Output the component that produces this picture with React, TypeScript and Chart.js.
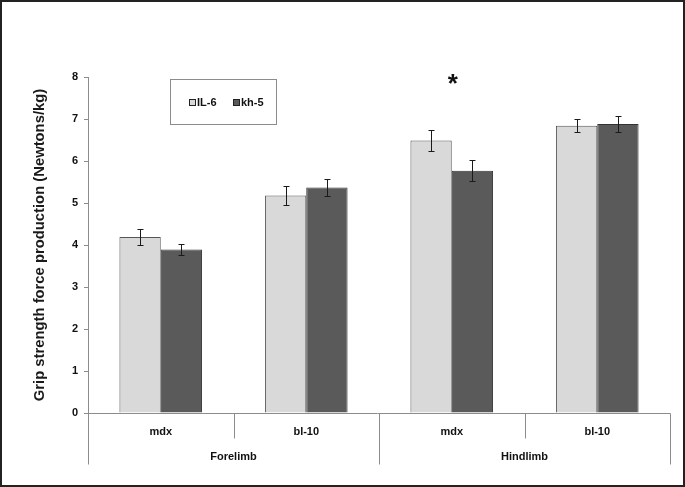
import React, { useEffect, useRef } from "react";
import { Chart, registerables } from "chart.js";

Chart.register(...registerables);

const categories = ["mdx", "bl-10", "mdx", "bl-10"];
const groups = ["Forelimb", "Hindlimb"];
const il6Values = [4.19, 5.18, 6.49, 6.84];
const il6Errors = [0.19, 0.22, 0.24, 0.16];
const kh5Values = [3.89, 5.37, 5.77, 6.88];
const kh5Errors = [0.13, 0.2, 0.25, 0.18];
const seriesNames = ["IL-6", "kh-5"];
const yTicks = [0, 1, 2, 3, 4, 5, 6, 7, 8];
const starCategory = 2;
const starValue = 7.9;

const FONT = "'Liberation Sans', Arial, sans-serif";

const overlay = {
  id: "overlay",
  afterDatasetsDraw(chart: any) {
    const ctx = chart.ctx as CanvasRenderingContext2D;
    const y = chart.scales.y;
    const errs = [il6Errors, kh5Errors];
    ctx.save();
    ctx.strokeStyle = "#1a1a1a";
    ctx.lineWidth = 1;
    chart.data.datasets.forEach((ds: any, di: number) => {
      const meta = chart.getDatasetMeta(di);
      meta.data.forEach((bar: any, i: number) => {
        const v = ds.data[i];
        const e = errs[di][i];
        const cx = Math.round(bar.x) + 0.5;
        const yt = Math.round(y.getPixelForValue(v + e)) + 0.5;
        const yb = Math.round(y.getPixelForValue(v - e)) + 0.5;
        ctx.beginPath();
        ctx.moveTo(cx, yt);
        ctx.lineTo(cx, yb);
        ctx.moveTo(cx - 3, yt);
        ctx.lineTo(cx + 3, yt);
        ctx.moveTo(cx - 3, yb);
        ctx.lineTo(cx + 3, yb);
        ctx.stroke();
      });
    });
    ctx.restore();
  },
  afterDraw(chart: any) {
    const ctx = chart.ctx as CanvasRenderingContext2D;
    const y = chart.scales.y;
    const x = chart.scales.x;
    const area = chart.chartArea;
    const y0 = Math.round(y.getPixelForValue(0)) + 0.5;
    const left = Math.round(area.left) + 0.5;
    const right = Math.round(area.right) + 0.5;
    const catW = (area.right - area.left) / categories.length;
    ctx.save();
    ctx.strokeStyle = "#8c8c8c";
    ctx.lineWidth = 1;
    ctx.beginPath();
    ctx.moveTo(left - 4, y0);
    ctx.lineTo(right, y0);
    ctx.moveTo(left, Math.round(y.getPixelForValue(8)));
    ctx.lineTo(left, y0 + 51);
    for (let i = 1; i < categories.length; i++) {
      const px = Math.round(area.left + catW * i) + 0.5;
      const len = i === categories.length / 2 ? 51 : 25;
      ctx.moveTo(px, y0);
      ctx.lineTo(px, y0 + len);
    }
    ctx.moveTo(right, y0);
    ctx.lineTo(right, y0 + 51);
    ctx.stroke();

    ctx.fillStyle = "#111";
    ctx.font = `bold 11px ${FONT}`;
    ctx.textAlign = "center";
    ctx.textBaseline = "middle";
    categories.forEach((c, i) => {
      ctx.fillText(c, x.getPixelForValue(i), y0 + 18);
    });
    groups.forEach((g, gi) => {
      const gx = area.left + catW * (gi * 2 + 1);
      ctx.fillText(g, gx, y0 + 43);
    });

    // star
    ctx.font = `bold 26px ${FONT}`;
    ctx.fillStyle = "#111";
    ctx.textBaseline = "middle";
    ctx.fillText("*", x.getPixelForValue(starCategory) + 1, y.getPixelForValue(starValue) + 4);

    // legend box
    ctx.strokeStyle = "#8c8c8c";
    ctx.lineWidth = 1;
    ctx.strokeRect(170.5, 79.5, 106, 45);
    const items = [
      { name: seriesNames[0], fill: "#d9d9d9", x: 189 },
      { name: seriesNames[1], fill: "#5a5a5a", x: 233 },
    ];
    ctx.font = `bold 11px ${FONT}`;
    ctx.textAlign = "left";
    ctx.textBaseline = "middle";
    items.forEach((it) => {
      ctx.fillStyle = it.fill;
      ctx.fillRect(it.x, 99, 7, 7);
      ctx.strokeStyle = "#222";
      ctx.strokeRect(it.x + 0.5, 99.5, 6, 6);
      ctx.fillStyle = "#111";
      ctx.fillText(it.name, it.x + 8, 103);
    });

    // y axis title
    ctx.save();
    ctx.translate(40, 245);
    ctx.rotate(-Math.PI / 2);
    ctx.font = `bold 14.8px ${FONT}`;
    ctx.fillStyle = "#1a1a1a";
    ctx.textAlign = "center";
    ctx.textBaseline = "middle";
    ctx.fillText("Grip strength force production (Newtons/kg)", 0, 0);
    ctx.restore();

    // outer frame
    ctx.strokeStyle = "#222";
    ctx.lineWidth = 2;
    ctx.strokeRect(1, 1, 683, 485);
    ctx.restore();
  },
};

export default function App() {
  const ref = useRef<HTMLCanvasElement | null>(null);
  useEffect(() => {
    if (!ref.current) return;
    const chart = new Chart(ref.current, {
      type: "bar",
      data: {
        labels: categories,
        datasets: [
          {
            label: seriesNames[0],
            data: il6Values,
            backgroundColor: "#d9d9d9",
            borderColor: "#555",
            borderWidth: 1,
            barPercentage: 1,
            categoryPercentage: 0.568,
          },
          {
            label: seriesNames[1],
            data: kh5Values,
            backgroundColor: "#5a5a5a",
            borderColor: "#333",
            borderWidth: 1,
            barPercentage: 1,
            categoryPercentage: 0.568,
          },
        ],
      },
      options: {
        responsive: false,
        animation: false,
        layout: { padding: { left: 0, right: 15, top: 77, bottom: 74 } },
        plugins: {
          legend: { display: false },
          tooltip: { enabled: false },
        },
        scales: {
          x: {
            display: false,
          },
          y: {
            min: 0,
            max: 8,
            afterFit: (s: any) => {
              s.width = 88;
            },
            afterBuildTicks: (s: any) => {
              s.ticks = yTicks.map((v) => ({ value: v }));
            },
            border: { display: true, color: "#8c8c8c" },
            grid: {
              drawOnChartArea: false,
              drawTicks: true,
              tickLength: 4,
              color: "#8c8c8c",
            },
            ticks: {
              padding: 6,
              color: "#111",
              font: { family: FONT, size: 11, weight: "bold" },
            },
          },
        },
      },
      plugins: [overlay],
    } as any);
    return () => chart.destroy();
  }, []);
  return (
    <div style={{ position: "absolute", left: 0, top: 0, width: 685, height: 487, background: "#fff" }}>
      <canvas ref={ref} width={685} height={487} />
    </div>
  );
}
